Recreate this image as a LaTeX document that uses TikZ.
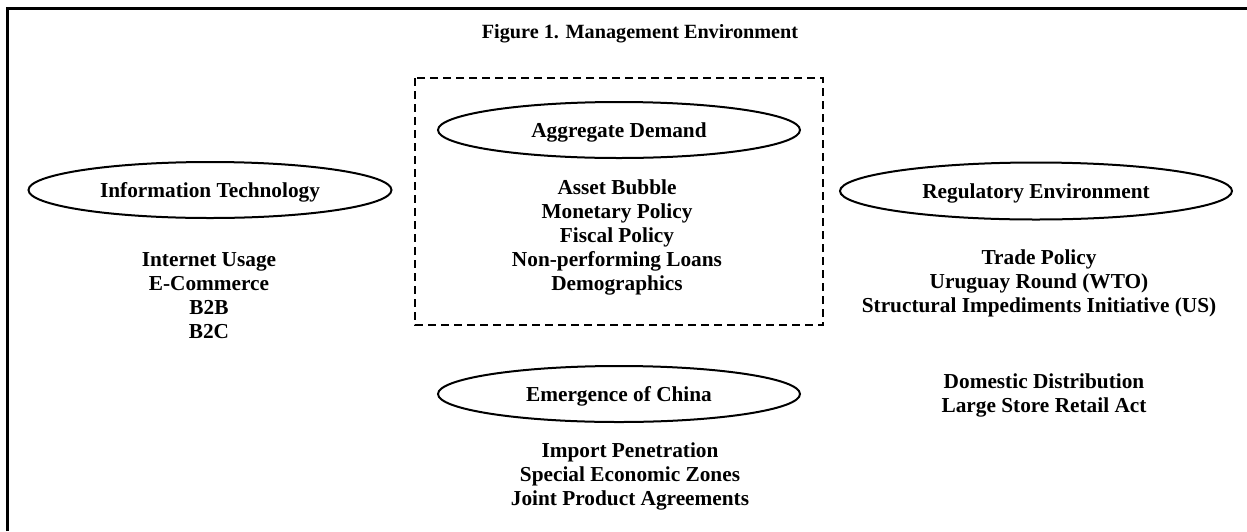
\documentclass[tikz,border=0pt]{standalone}
\usepackage{fontspec}
\setmainfont{Liberation Serif}
\usetikzlibrary{shapes.geometric}
\begin{document}
\begin{tikzpicture}[x=1pt,y=-1pt,
  every node/.style={font=\bfseries\fontsize{21.3}{24}\selectfont, inner sep=0pt},
  factor/.style={ellipse, draw, line width=2pt, minimum width=362pt, minimum height=56pt,
    text height=14pt, text depth=0pt},
  items/.style={align=center},
  group/.style={draw, dashed, line width=2pt, dash pattern=on 8pt off 5pt}]
  \useasboundingbox (0,0) rectangle (1247,531);
  % outer frame (left and top rules)
  \draw[line width=3pt] (7,531) -- (7,8) -- (1247,8);
  % title
  \node[font=\bfseries\fontsize{20.2}{24}\selectfont, text height=13.5pt, text depth=0pt]
    (title) at (640,32) {Figure 1. Management Environment};
  % aggregate demand group
  \draw[group] (415,78) rectangle (823,325);
  \node[factor] (ad) at (619,130) {Aggregate Demand};
  \node[items] (adlist) at (617,237) {Asset Bubble\\Monetary Policy\\Fiscal Policy\\Non-performing Loans\\Demographics};
  % information technology
  \node[factor, minimum width=363pt] (it) at (210,190) {Information Technology};
  \node[items] (itlist) at (209,296) {Internet Usage\\E-Commerce\\B2B\\B2C};
  % regulatory environment
  \node[factor, minimum width=392pt, minimum height=57pt] (re) at (1036,191) {Regulatory Environment};
  \node[items] (relist) at (1039,283) {Trade Policy\\Uruguay Round (WTO)\\Structural Impediments Initiative (US)};
  \node[items] (dd) at (1044,395) {Domestic Distribution\\Large Store Retail Act};
  % emergence of china
  \node[factor] (ch) at (619,394) {Emergence of China};
  \node[items] (chlist) at (630,476) {Import Penetration\\Special Economic Zones\\Joint Product Agreements};
\end{tikzpicture}
\end{document}
